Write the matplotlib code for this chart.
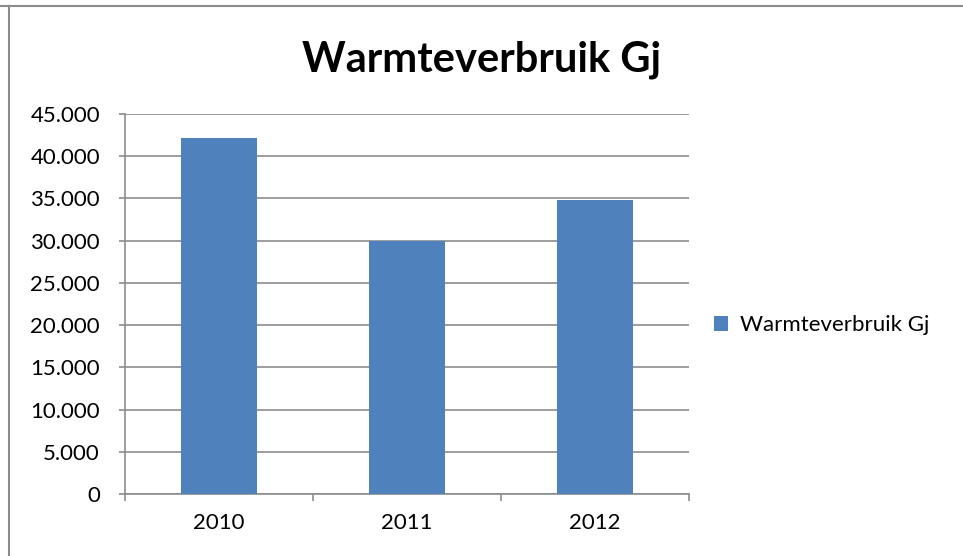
import matplotlib.pyplot as plt
from matplotlib.lines import Line2D
from matplotlib.ticker import FuncFormatter

years = ['2010', '2011', '2012']
heat_use = [42150, 29920, 34770]
series_name = 'Warmteverbruik Gj'
y_ticks = list(range(0, 45001, 5000))

plt.rcParams['font.family'] = ['Lato', 'DejaVu Sans']

fig = plt.figure(figsize=(9.63, 5.56), dpi=100)
ax = fig.add_axes([125 / 963, 1 - 494 / 556, 564 / 963, 380 / 556])

x = range(len(years))
ax.bar(x, heat_use, width=0.4, color='#4F81BD', label=series_name, zorder=3)

ax.set_xlim(-0.5, len(years) - 0.5)
ax.set_ylim(0, 45000)
ax.set_yticks(y_ticks)
ax.yaxis.set_major_formatter(FuncFormatter(lambda v, p: f'{int(v):,}'.replace(',', '.')))
ax.grid(axis='y', color='#8c8c8c', linewidth=1.2, zorder=0)

# category labels sit between boundary ticks
ax.set_xticks([i - 0.5 for i in range(len(years) + 1)])
ax.set_xticklabels([])
ax.set_xticks(list(x), minor=True)
ax.set_xticklabels(years, minor=True, fontsize=16)
ax.tick_params(axis='x', which='major', length=5, color='#8c8c8c', width=1.2)
ax.tick_params(axis='x', which='minor', length=0, pad=14)
ax.tick_params(axis='y', length=4, color='#8c8c8c', width=1.2, labelsize=16, pad=14)

for side in ['top', 'right']:
    ax.spines[side].set_visible(False)
for side in ['left', 'bottom']:
    ax.spines[side].set_color('#8c8c8c')
    ax.spines[side].set_linewidth(1.2)

fig.text(0.5, 1 - 60 / 556, 'Warmteverbruik Gj', ha='center', va='center',
         fontsize=30, fontweight='bold')

fig.legend(loc='center left', bbox_to_anchor=(694 / 963, 1 - 325 / 556),
           frameon=False, fontsize=16, handlelength=0.65, handleheight=0.65,
           handletextpad=0.5)

# frame remnants of the cropped chart border
fig.add_artist(Line2D([0, 1], [1 - 6 / 556] * 2, color='#8c8c8c', linewidth=1.5))
fig.add_artist(Line2D([8.5 / 963] * 2, [0, 1 - 6 / 556], color='#8c8c8c', linewidth=1.5))

fig.savefig('out.png', dpi=100)
